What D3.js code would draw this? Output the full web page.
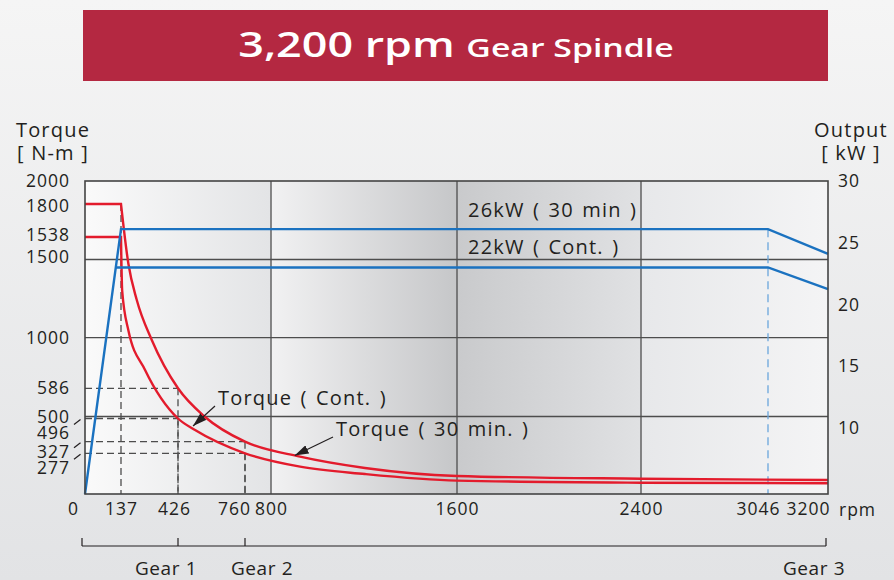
<!DOCTYPE html>
<html>
<head>
<meta charset="utf-8">
<script src="https://cdn.jsdelivr.net/npm/d3@7"></script>
<style>
  body { margin: 0; background: #e8e9eb; }
  svg { display: block; font-family: "Open Sans", sans-serif; }
</style>
</head>
<body>
<svg id="chart" width="894" height="580"></svg>
<script>
// values
const rpmTicks = [0, 137, 426, 760, 800, 1600, 2400, 3046, 3200];
const rpmGrid = [800, 1600, 2400];
const torqueTicks = [2000, 1800, 1538, 1500, 1000, 586, 500, 496, 327, 277];
const torqueGrid = [500, 1000, 1500];
const powerTicks = [30, 25, 20, 15, 10];

// [rpm, N-m]
const torque30 = [[0, 1800], [137, 1800], [174, 1476], [217, 1241], [293, 981], [426, 586],
  [561, 499], [760, 327], [925, 254], [1204, 177], [1600, 123], [2400, 104], [3200, 95]];
const torqueCont = [[0, 1538], [137, 1538], [143, 1300], [174, 1049], [259, 736], [426, 496],
  [511, 412], [760, 277], [925, 186], [1204, 136], [1600, 91], [2400, 77], [3200, 73]];

// [rpm, kW]
const power30 = [[0, 0], [137, 26.1], [3046, 26.1], [3200, 24.1]];
const powerCont = [[117, 23], [3046, 23], [3200, 21.25]];

// dashed guide points [rpm, N-m]
const guides = [[137, 1800], [426, 586], [426, 496], [760, 327], [760, 277]];

const gearBreaks = [0, 426, 760, 3200];
const gearNames = ["Gear 1", "Gear 2", "Gear 3"];

const red = "#e31b2c", blue = "#1b72c0", ink = "#231f20";

let svg = d3.select("#chart");
let defs = svg.append("defs");

// page background
let bg = defs.append("linearGradient").attr("id", "pageBg")
  .attr("x1", 0).attr("y1", 0).attr("x2", 0).attr("y2", 1);
bg.append("stop").attr("offset", 0).attr("stop-color", "#f5f5f5");
bg.append("stop").attr("offset", 1).attr("stop-color", "#e2e3e5");
svg.append("rect").attr("width", 894).attr("height", 580).attr("fill", "url(#pageBg)");

// scales -- the drawing is schematic, so the axes are piecewise
let x = d3.scaleLinear()
  .domain(rpmTicks)
  .range([85, 121, 178, 245, 271, 457, 641, 768, 828]);

let yT = d3.scaleLinear()
  .domain([0, 277, 327, 496, 500, 586, 1000, 1500, 1538, 1800, 2000])
  .range([494, 453.3, 441.7, 418.5, 416.5, 388.3, 337.7, 259.5, 237, 204, 181]);

let yP = d3.scaleLinear()
  .domain([0, 10, 30])
  .range([494, 428, 181]);

let pLeft = x(0), pRight = x(3200), pTop = yT(2000), pBottom = yT(0);

// plot background, banded gradient
let pg = defs.append("linearGradient").attr("id", "plotBg")
  .attr("gradientUnits", "userSpaceOnUse")
  .attr("x1", pLeft).attr("x2", pRight).attr("y1", 0).attr("y2", 0);
[[0, "#fafafa"], [0.249, "#e3e4e6"], [0.251, "#f1f1f2"], [0.499, "#c6c7c9"],
 [0.501, "#c9cacc"], [0.747, "#e0e1e3"], [0.749, "#e7e8ea"], [1, "#f4f4f5"]]
  .forEach(s => pg.append("stop").attr("offset", s[0]).attr("stop-color", s[1]));

svg.append("rect")
  .attr("x", pLeft).attr("y", pTop)
  .attr("width", pRight - pLeft).attr("height", pBottom - pTop)
  .attr("fill", "url(#plotBg)");

// title
svg.append("rect")
  .attr("x", 83).attr("y", 10).attr("width", 745).attr("height", 71)
  .attr("fill", "#b42841");

let title = svg.append("text")
  .attr("transform", "translate(456,57) scale(1.3,1)")
  .attr("text-anchor", "middle")
  .attr("fill", "#fff")
  .style("font-weight", 600);
title.append("tspan").style("font-size", "34.5px").text("3,200 rpm ");
title.append("tspan").style("font-size", "26px").text("Gear Spindle");

// grid
let grid = svg.append("g").attr("stroke", "#4d4d4d").attr("stroke-width", 1.3);
grid.selectAll(".h").data(torqueGrid).enter().append("line")
  .attr("x1", pLeft).attr("x2", pRight)
  .attr("y1", d => yT(d)).attr("y2", d => yT(d));
grid.selectAll(".v").data(rpmGrid).enter().append("line")
  .attr("x1", d => x(d)).attr("x2", d => x(d))
  .attr("y1", pTop).attr("y2", pBottom);

// dashed guides
let dash = svg.append("g")
  .attr("stroke", "#4d4d4d").attr("stroke-width", 1.3)
  .attr("stroke-dasharray", "7,4").attr("fill", "none");
guides.forEach(function (g) {
  if (g[1] != 1800) {
    dash.append("line")
      .attr("x1", pLeft).attr("x2", x(g[0]))
      .attr("y1", yT(g[1])).attr("y2", yT(g[1]));
  }
  dash.append("line")
    .attr("x1", x(g[0])).attr("x2", x(g[0]))
    .attr("y1", yT(g[1])).attr("y2", pBottom);
});

// blue dashed at 3046
svg.append("line")
  .attr("x1", x(3046)).attr("x2", x(3046))
  .attr("y1", yP(26.1)).attr("y2", pBottom)
  .attr("stroke", "#6aa6dc").attr("stroke-width", 1.3)
  .attr("stroke-dasharray", "8,5");

// torque lines
let flat = d3.line().x(d => x(d[0])).y(d => yT(d[1]));
let curve = d3.line().x(d => x(d[0])).y(d => yT(d[1])).curve(d3.curveMonotoneX);

[torque30, torqueCont].forEach(function (data) {
  svg.append("path")
    .attr("d", flat(data.slice(0, 2)) + curve(data.slice(1)).replace(/^M/, "L"))
    .attr("fill", "none")
    .attr("stroke", red)
    .attr("stroke-width", 2.4)
    .attr("stroke-linejoin", "miter");
});

// power lines
let pline = d3.line().x(d => x(d[0])).y(d => yP(d[1]));
[power30, powerCont].forEach(function (data) {
  svg.append("path")
    .attr("d", pline(data))
    .attr("fill", "none")
    .attr("stroke", blue)
    .attr("stroke-width", 2.4);
});

// plot frame
svg.append("rect")
  .attr("x", pLeft).attr("y", pTop)
  .attr("width", pRight - pLeft).attr("height", pBottom - pTop)
  .attr("fill", "none").attr("stroke", "#444").attr("stroke-width", 1.6);

// axes
function styleAxis(g) {
  g.select(".domain").remove();
  g.selectAll("line").remove();
  g.selectAll("text")
    .attr("fill", ink)
    .style("font-size", "17.5px")
    .style("letter-spacing", "1px");
  g.attr("font-family", null).attr("font-size", null);
}

let xNudge = {0: -12, 426: -4, 760: -11, 3046: -10, 3200: -20};
let xAxis = svg.append("g")
  .attr("transform", "translate(0," + pBottom + ")")
  .call(d3.axisBottom(x).tickValues(rpmTicks).tickSize(0).tickPadding(9).tickFormat(d3.format("d")))
  .call(styleAxis);
xAxis.selectAll("text").attr("dx", d => xNudge[d] || 0);

svg.append("text")
  .attr("x", 839).attr("y", 516)
  .attr("fill", ink)
  .style("font-size", "17.5px").style("letter-spacing", "1px")
  .text("rpm");

let yNudge = {496: 14, 327: 10, 277: 15, 1800: 2, 1538: -2.5, 1500: -2.3};
let yAxis = svg.append("g")
  .attr("transform", "translate(" + pLeft + ",0)")
  .call(d3.axisLeft(yT).tickValues(torqueTicks).tickSize(0).tickPadding(15).tickFormat(d3.format("d")))
  .call(styleAxis);
yAxis.selectAll("text").attr("y", d => yNudge[d] || 0);

// little leader strokes for the crowded labels
svg.append("g").attr("stroke", ink).attr("stroke-width", 1.2)
  .selectAll("line").data([496, 327, 277]).enter().append("line")
  .attr("x1", 74).attr("x2", 80.5)
  .attr("y1", d => yT(d) + 6).attr("y2", d => yT(d) + 1);

let pAxis = svg.append("g")
  .attr("transform", "translate(" + pRight + ",0)")
  .call(d3.axisRight(yP).tickValues(powerTicks).tickSize(0).tickPadding(10))
  .call(styleAxis);

// axis titles and labels
function label(txt, px, py, anchor) {
  return svg.append("text")
    .attr("x", px).attr("y", py)
    .attr("text-anchor", anchor || "start")
    .attr("fill", ink)
    .style("font-size", "20px")
    .style("letter-spacing", "1.2px")
    .style("word-spacing", "2px")
    .text(txt);
}
label("Torque", 53, 137, "middle");
label("[ N-m ]", 53, 160, "middle").style("word-spacing", "0px");
label("Output", 851, 137, "middle");
label("[ kW ]", 851, 160, "middle").style("word-spacing", "0px");

label("26kW ( 30 min )", 468, 217);
label("22kW ( Cont. )", 468, 254);
label("Torque ( Cont. )", 218, 405);
label("Torque ( 30 min. )", 336, 436);

// arrows to the torque curves
defs.append("marker")
  .attr("id", "head")
  .attr("viewBox", "0 0 14 9")
  .attr("refX", 14).attr("refY", 4.5)
  .attr("markerWidth", 14).attr("markerHeight", 9)
  .attr("markerUnits", "userSpaceOnUse")
  .attr("orient", "auto")
  .append("path").attr("d", "M0,0L14,4.5L0,9Z").attr("fill", ink);

[[501, 441, 215, 406], [902, 262, 333, 437]].forEach(function (a) {
  svg.append("line")
    .attr("x1", a[2]).attr("y1", a[3])
    .attr("x2", x(a[0])).attr("y2", yT(a[1]))
    .attr("stroke", ink).attr("stroke-width", 1.2)
    .attr("marker-end", "url(#head)");
});

// gear row
let gy = 546;
let gear = svg.append("g").attr("stroke", ink).attr("stroke-width", 1.2);
gear.append("line")
  .attr("x1", x(0) - 3).attr("x2", x(3200) - 2)
  .attr("y1", gy).attr("y2", gy);
gear.selectAll(".t").data(gearBreaks).enter().append("line")
  .attr("x1", (d, i) => x(d) - (i == 0 ? 3 : i == 3 ? 2 : 0))
  .attr("x2", (d, i) => x(d) - (i == 0 ? 3 : i == 3 ? 2 : 0))
  .attr("y1", gy - 8).attr("y2", gy);

let gearNudge = [-12, 17, -14];
svg.selectAll(".gearName").data(gearNames).enter().append("text")
  .attr("x", (d, i) => x(gearBreaks[i + 1]) + gearNudge[i])
  .attr("y", 575)
  .attr("text-anchor", "middle")
  .attr("fill", ink)
  .style("font-size", "19px")
  .style("letter-spacing", "0.6px")
  .text(d => d);
</script>
</body>
</html>
